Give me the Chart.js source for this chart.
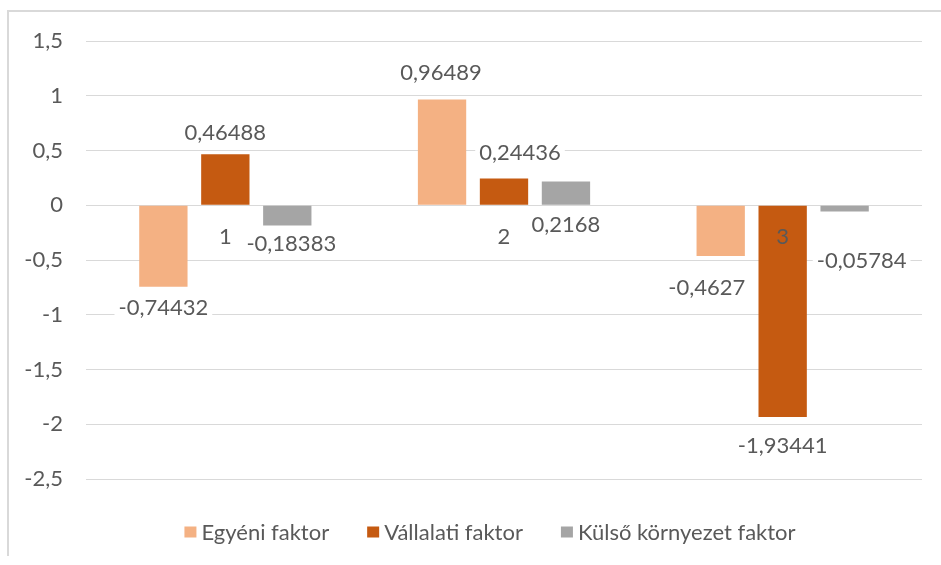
<!DOCTYPE html>
<html>
<head>
<meta charset="utf-8">
<script src="https://cdn.jsdelivr.net/npm/chart.js@4/dist/chart.umd.min.js"></script>
<style>
html,body{margin:0;padding:0;background:#fff;}
#wrap{width:941px;height:565px;}
</style>
</head>
<body>
<div id="wrap"><canvas id="c" width="941" height="565"></canvas></div>
<script>
// ---- data ----
const categories = ['1', '2', '3'];
const seriesNames = ['Egyéni faktor', 'Vállalati faktor', 'Külső környezet faktor'];
const egyeniValues = [-0.74432, 0.96489, -0.4627];
const vallalatiValues = [0.46488, 0.24436, -1.93441];
const kulsoValues = [-0.18383, 0.2168, -0.05784];
const yMin = -2.5;
const yMax = 1.5;
const yStep = 0.5;

// ---- style ----
const colors = ['#F4B183', '#C55A11', '#A5A5A5'];
const textColor = '#595959';
const fontFamily = 'Lato, "Open Sans", sans-serif';
const fontSize = 22;
// label nudges [dx, dy] in px relative to default outside-end placement
const labelNudges = [
  [[0, 0], [-1, -6], [-14, 11]],
  [[0, 0], [16, -5], [0, 8]],
  [[4, -2], [0, 64], [17, 28]]
];

const fmt = v => String(v).replace('.', ',');

const framePlugin = {
  id: 'frame',
  beforeDraw(chart) {
    const ctx = chart.ctx;
    ctx.save();
    ctx.fillStyle = '#fff';
    ctx.fillRect(0, 0, chart.width, chart.height);
    ctx.strokeStyle = '#d9d9d9';
    ctx.lineWidth = 2;
    ctx.beginPath();
    ctx.moveTo(8, 556);
    ctx.lineTo(8, 11);
    ctx.lineTo(chart.width, 11);
    ctx.stroke();
    ctx.restore();
  }
};

const dataLabelPlugin = {
  id: 'dataLabels',
  afterDatasetsDraw(chart) {
    const ctx = chart.ctx;
    ctx.save();
    ctx.font = fontSize + 'px ' + fontFamily;
    ctx.textAlign = 'center';
    ctx.textBaseline = 'middle';
    chart.data.datasets.forEach((ds, di) => {
      const meta = chart.getDatasetMeta(di);
      meta.data.forEach((bar, i) => {
        const v = ds.data[i];
        const n = labelNudges[di][i];
        const x = bar.x + n[0];
        const y = bar.y + (v >= 0 ? -21 : 21) + n[1];
        const txt = fmt(v);
        const w = ctx.measureText(txt).width;
        ctx.fillStyle = '#fff';
        ctx.fillRect(x - w / 2 - 4, y - 12, w + 8, 24);
        ctx.fillStyle = textColor;
        ctx.fillText(txt, x, y);
      });
    });
    ctx.restore();
  }
};

const legendPlugin = {
  id: 'customLegend',
  afterDraw(chart) {
    const ctx = chart.ctx;
    ctx.save();
    ctx.font = fontSize + 'px ' + fontFamily;
    ctx.textBaseline = 'middle';
    ctx.textAlign = 'left';
    const box = 12, boxH = 11, gap = 5, itemGap = 38;
    const ds = chart.data.datasets;
    const widths = ds.map(d => ctx.measureText(d.label).width);
    const total = widths.reduce((a, w) => a + box + gap + w, 0) + itemGap * (ds.length - 1);
    const cx = 490, cy = 532;
    let x = cx - total / 2;
    ds.forEach((d, i) => {
      ctx.fillStyle = d.backgroundColor;
      ctx.fillRect(x, cy - boxH / 2, box, boxH);
      x += box + gap;
      ctx.fillStyle = textColor;
      ctx.fillText(d.label, x, cy + 1);
      x += widths[i] + itemGap;
    });
    ctx.restore();
  }
};

new Chart(document.getElementById('c'), {
  type: 'bar',
  data: {
    labels: categories,
    datasets: [
      { label: seriesNames[0], data: egyeniValues, backgroundColor: colors[0] },
      { label: seriesNames[1], data: vallalatiValues, backgroundColor: colors[1] },
      { label: seriesNames[2], data: kulsoValues, backgroundColor: colors[2] }
    ]
  },
  options: {
    responsive: false,
    devicePixelRatio: 1,
    animation: false,
    layout: { padding: { left: 0, right: 19, top: 41, bottom: 86 } },
    datasets: {
      bar: { categoryPercentage: 0.667, barPercentage: 0.78, borderWidth: 0 }
    },
    plugins: {
      legend: { display: false },
      tooltip: { enabled: false }
    },
    scales: {
      x: {
        type: 'category',
        position: { y: 0 },
        grid: { display: false, drawTicks: false },
        border: { display: false },
        ticks: { z: 1, color: textColor, font: { family: fontFamily, size: fontSize }, padding: 18, maxRotation: 0 }
      },
      y: {
        min: yMin,
        max: yMax,
        afterFit(scale) { scale.width = 86; },
        grid: { color: '#d9d9d9', lineWidth: 1, drawTicks: false },
        border: { display: false },
        ticks: {
          stepSize: yStep,
          color: textColor,
          padding: 23,
          font: { family: fontFamily, size: fontSize },
          callback: v => fmt(v)
        }
      }
    }
  },
  plugins: [framePlugin, dataLabelPlugin, legendPlugin]
});
</script>
</body>
</html>
